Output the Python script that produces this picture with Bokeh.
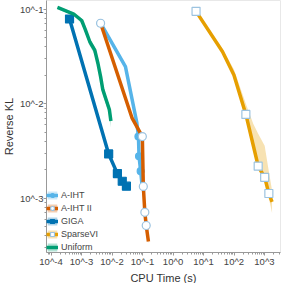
from bokeh.plotting import figure
from bokeh.models import Range1d, FixedTicker, CustomJSTickFormatter, Legend, LegendItem, Title
from bokeh.embed import file_html
from bokeh.resources import INLINE

# ---- data ----
aiht_x = [4.21e-3, 0.0275, 0.0649, 0.0735, 0.0767, 0.0869, 0.0970]
aiht_y = [0.0713, 0.0247, 0.00630, 0.00449, 0.00277, 0.00193, 0.00134]
aiht_lo = [0.0700, 0.0240, 0.00600, 0.00430, 0.00265, 0.00185, 0.00128]
aiht_hi = [0.0730, 0.0255, 0.00660, 0.00470, 0.00290, 0.00200, 0.00140]
aiht_mk = [0, 3, 4, 5]

aiht2_x = [4.21e-3, 0.045, 0.0986, 0.106, 0.119, 0.132, 0.156]
aiht2_y = [0.0713, 0.0071, 0.00449, 0.00133, 0.000708, 0.000513, 0.000348]
aiht2_lo = [0.0700, 0.0069, 0.00440, 0.00128, 0.000680, 0.000490, 0.000330]
aiht2_hi = [0.0730, 0.0073, 0.00460, 0.00138, 0.000740, 0.000540, 0.000370]
aiht2_mk = [0, 2, 3, 4, 5]

giga_x = [4.03e-4, 7.74e-3, 0.01496, 0.0216, 0.0296]
giga_y = [0.0791, 0.00294, 0.00182, 0.00151, 0.00134]
giga_lo = [0.0775, 0.00288, 0.00178, 0.00148, 0.00131]
giga_hi = [0.0805, 0.00300, 0.00186, 0.00154, 0.00137]
giga_mk = [0, 1, 2, 3, 4]

svi_x = [5.69, 42.1, 99.3, 245.0, 431.0, 621.0, 1014.0, 1390.0, 1770.0]
svi_y = [0.0953, 0.0355, 0.0202, 0.0077, 0.00359, 0.00218, 0.00166, 0.00112, 0.000914]
svi_lo = [0.0940, 0.0340, 0.0190, 0.0072, 0.00330, 0.00200, 0.00150, 0.00100, 0.000697]
svi_hi = [0.0970, 0.0380, 0.0230, 0.0100, 0.00610, 0.00480, 0.00360, 0.00192, 0.00121]
svi_mk = [0, 3, 5, 6, 7]

uni_x = [1.62e-4, 5.52e-4, 1.01e-3, 1.30e-3, 1.88e-3, 2.71e-3, 3.45e-3, 4.21e-3, 4.98e-3, 6.35e-3, 8.15e-3, 9.16e-3]
uni_y = [0.105, 0.0893, 0.0762, 0.0622, 0.0451, 0.0370, 0.0267, 0.0194, 0.0141, 0.0111, 0.00869, 0.00656]
uni_lo = [0.101, 0.086, 0.071, 0.057, 0.041, 0.033, 0.024, 0.0172, 0.0125, 0.0098, 0.0076, 0.0056]
uni_hi = [0.108, 0.093, 0.080, 0.066, 0.048, 0.040, 0.029, 0.0212, 0.0155, 0.0122, 0.0096, 0.0072]

x_tick_exps = [-4, -3, -2, -1, 0, 1, 2, 3]
y_tick_exps = [-3, -2, -1]

FONT = "Liberation Sans"
MARK_EDGE = "#9cc3e0"

p = figure(width=283, height=283, x_axis_type="log", y_axis_type="log",
           x_range=Range1d(10 ** -4.15, 10 ** 3.525),
           y_range=Range1d(10 ** -3.576, 10 ** -0.906),
           output_backend="svg", toolbar_location=None,
           min_border_left=39, min_border_right=3, min_border_top=0, min_border_bottom=0)
p.title.visible = False
p.xgrid.visible = False
p.ygrid.visible = False
p.outline_line_color = "#e8e8e8"
p.background_fill_color = "white"
p.border_fill_color = "white"

def minors(exps):
    return [m * 10.0 ** e for e in range(min(exps) - 1, max(exps) + 1) for m in range(2, 10)]

p.xaxis.ticker = FixedTicker(ticks=[10.0 ** e for e in x_tick_exps], minor_ticks=minors(x_tick_exps))
p.yaxis.ticker = FixedTicker(ticks=[10.0 ** e for e in y_tick_exps], minor_ticks=minors(y_tick_exps))
fmt = "return '10^' + Math.round(Math.log10(tick)).toString();"
p.xaxis.formatter = CustomJSTickFormatter(code=fmt)
p.yaxis.formatter = CustomJSTickFormatter(code=fmt)

for ax in (p.xaxis, p.yaxis):
    ax.axis_line_color = "#999999"
    ax.major_tick_line_color = "#999999"
    ax.minor_tick_line_color = "#999999"
    ax.major_tick_out = 3
    ax.major_tick_in = 0
    ax.minor_tick_out = 2
    ax.minor_tick_in = 0
    ax.major_label_text_font = FONT
    ax.major_label_text_font_size = "9.5px"
    ax.major_label_text_color = "#444444"
    ax.major_label_text_line_height = 1.0
    ax.major_label_standoff = 0
    ax.axis_label_text_font = FONT
    ax.axis_label_text_font_size = "11px"
    ax.axis_label_text_font_style = "normal"
    ax.axis_label_text_color = "#333333"
    ax.axis_label_text_line_height = 1.0
p.yaxis.axis_label_standoff = 2
p.yaxis.axis_label = "Reverse KL"

# x-axis title as a panel below the tick labels
p.add_layout(Title(text="CPU Time (s)", align="center", text_font=FONT, text_font_size="11px",
                   text_font_style="normal", text_color="#333333", standoff=0, offset=0,
                   text_line_height=1.0), "below")

series = [
    ("A-IHT", "#56B4E9", aiht_x, aiht_y, aiht_lo, aiht_hi, aiht_mk, "circle", "#56B4E9", "#56B4E9", 7),
    ("A-IHT II", "#D55E00", aiht2_x, aiht2_y, aiht2_lo, aiht2_hi, aiht2_mk, "circle", "white", MARK_EDGE, 8),
    ("GIGA", "#0072B2", giga_x, giga_y, giga_lo, giga_hi, giga_mk, "square", "#0072B2", "#0072B2", 8),
    ("SparseVI", "#E69F00", svi_x, svi_y, svi_lo, svi_hi, svi_mk, "square", "white", MARK_EDGE, 8),
    ("Uniform", "#009E73", uni_x, uni_y, uni_lo, uni_hi, None, None, None, None, 0),
]

items = []
for name, col, xs, ys, lo, hi, mk, marker, mfill, medge, msize in series:
    band = p.varea(x=xs, y1=lo, y2=hi, fill_color=col, fill_alpha=0.3)
    line = p.line(xs, ys, line_color=col, line_width=3.5)
    rs = [band, line]
    if mk is not None:
        sc = p.scatter([xs[i] for i in mk], [ys[i] for i in mk], marker=marker, size=msize,
                       fill_color=mfill, line_color=medge, line_width=1.2)
        rs.append(sc)
    items.append(LegendItem(label=name, renderers=rs))

legend = Legend(items=items, location="bottom_left")
legend.border_line_color = None
legend.background_fill_alpha = 0
legend.label_text_font = FONT
legend.label_text_font_size = "9px"
legend.label_text_color = "#444444"
legend.glyph_width = 12
legend.glyph_height = 10
legend.label_height = 10
legend.spacing = 3
legend.padding = 5
legend.margin = 0
legend.label_standoff = 3
p.add_layout(legend)

open("out.html", "w").write(file_html(p, INLINE))
